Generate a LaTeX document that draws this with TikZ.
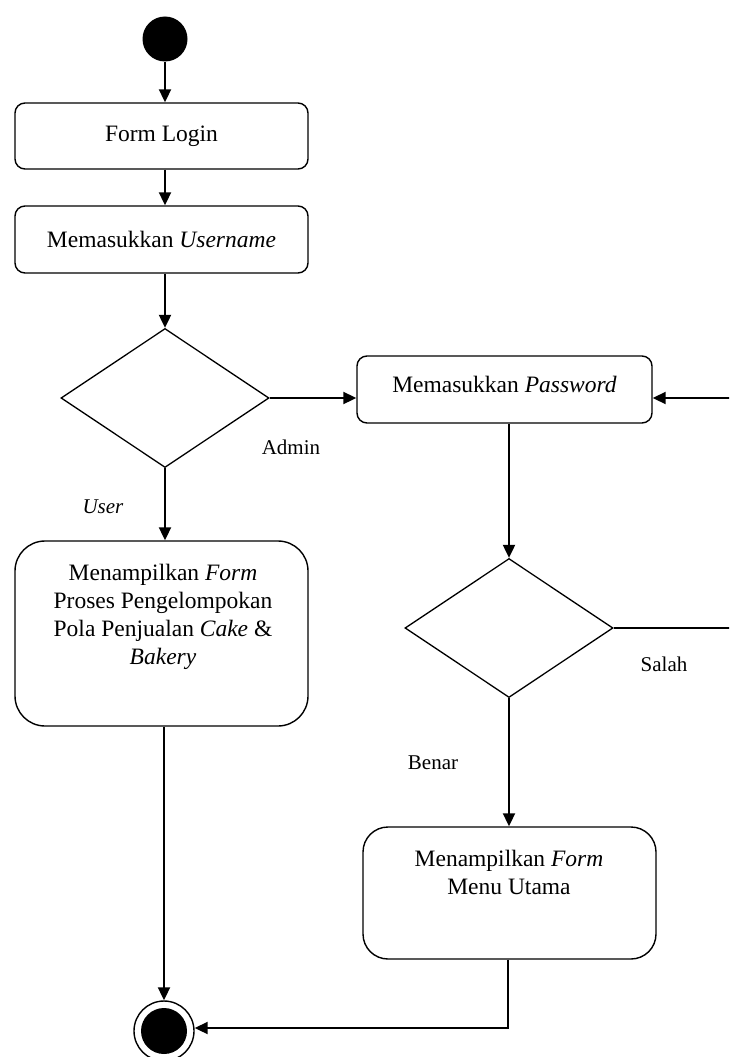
\documentclass[tikz,border=0pt]{standalone}
\usepackage{fontspec}
\setmainfont{Liberation Serif}
\usetikzlibrary{arrows.meta,shapes.geometric}
\begin{document}
\begin{tikzpicture}[x=1pt,y=-1pt,
  box/.style={draw,line width=1.4pt,rounded corners=10pt,inner sep=0pt},
  bigbox/.style={draw,line width=1.4pt,inner sep=0pt},
  dec/.style={draw,diamond,line width=1.3pt,inner sep=0pt,aspect=1.5,minimum width=208pt,minimum height=139pt},
  txt/.style={font=\fontsize{23.5}{28}\selectfont,align=center,inner sep=0pt},
  lbl/.style={font=\fontsize{21}{25}\selectfont,inner sep=0pt},
  conn/.style={line width=2pt,-{Triangle[length=13pt,width=12pt]}},
  plain/.style={line width=2pt}]
\clip (0,0) rectangle (729,1057);
\fill[white] (0,0) rectangle (729,1057);
% start
\node[circle,fill=black,minimum size=45pt,inner sep=0pt] (start) at (165,39) {};
% boxes
\node[box,minimum width=293pt,minimum height=66pt] (login) at (161.5,136) {};
\node[txt] (logintxt) at (login.center) {Form Login};
\node[box,minimum width=293pt,minimum height=67pt] (user) at (161.5,239.5) {};
\node[txt] (usertxt) at (user.center) {Memasukkan \textit{Username}};
\node[dec] (d1) at (165,398) {};
\node[box,minimum width=295pt,minimum height=67pt] (pw) at (504.5,389.5) {};
\node[txt] (pwtxt) at (504.5,384) {Memasukkan \textit{Password}};
\node[bigbox,rounded corners=30pt,minimum width=293pt,minimum height=185pt] (ubox) at (161.5,633.5) {};
\node[txt] (uboxtxt) at (163,617) {Menampilkan \textit{Form}\\Proses Pengelompokan\\Pola Penjualan \textit{Cake} \&\\\textit{Bakery}};
\node[dec] (d2) at (509,628) {};
\node[bigbox,rounded corners=25pt,minimum width=293pt,minimum height=132pt] (menu) at (509.5,893) {};
\node[txt] (menutxt) at (509,872) {Menampilkan \textit{Form}\\Menu Utama};
% end
\node[circle,draw,line width=1.4pt,minimum size=60pt,inner sep=0pt] (end) at (164,1031) {};
\node[circle,fill=black,minimum size=46pt,inner sep=0pt] (endin) at (end.center) {};
% labels
\node[lbl] (admin) at (291,447) {Admin};
\node[lbl] (userl) at (103,507) {\textit{User}};
\node[lbl] (salah) at (664,664) {Salah};
\node[lbl] (benar) at (433,763) {Benar};
% helper coordinates
\coordinate (r1) at (745,628);
\coordinate (r2) at (745,398);
\coordinate (m1) at (508,1028);
% connectors
\draw[conn] (start.south) -- (login.north -| start.south);
\draw[conn] (login.south -| start.south) -- (user.north -| start.south);
\draw[conn] (user.south -| d1.north) -- (d1.north);
\draw[conn] (d1.east) -- (pw.west |- d1.east);
\draw[conn] (d1.south) -- (ubox.north -| d1.south);
\draw[conn] (pw.south -| d2.north) -- (d2.north);
\draw[conn] (d2.south) -- (menu.north -| d2.south);
\draw[conn] (d2.east) -- (r1) -- (r2) -- (pw.east |- r2);
\draw[conn] (ubox.south -| end.north) -- (end.north);
\draw[conn] (menu.south -| m1) -- (m1) -- (end.east |- m1);
\end{tikzpicture}
\end{document}
